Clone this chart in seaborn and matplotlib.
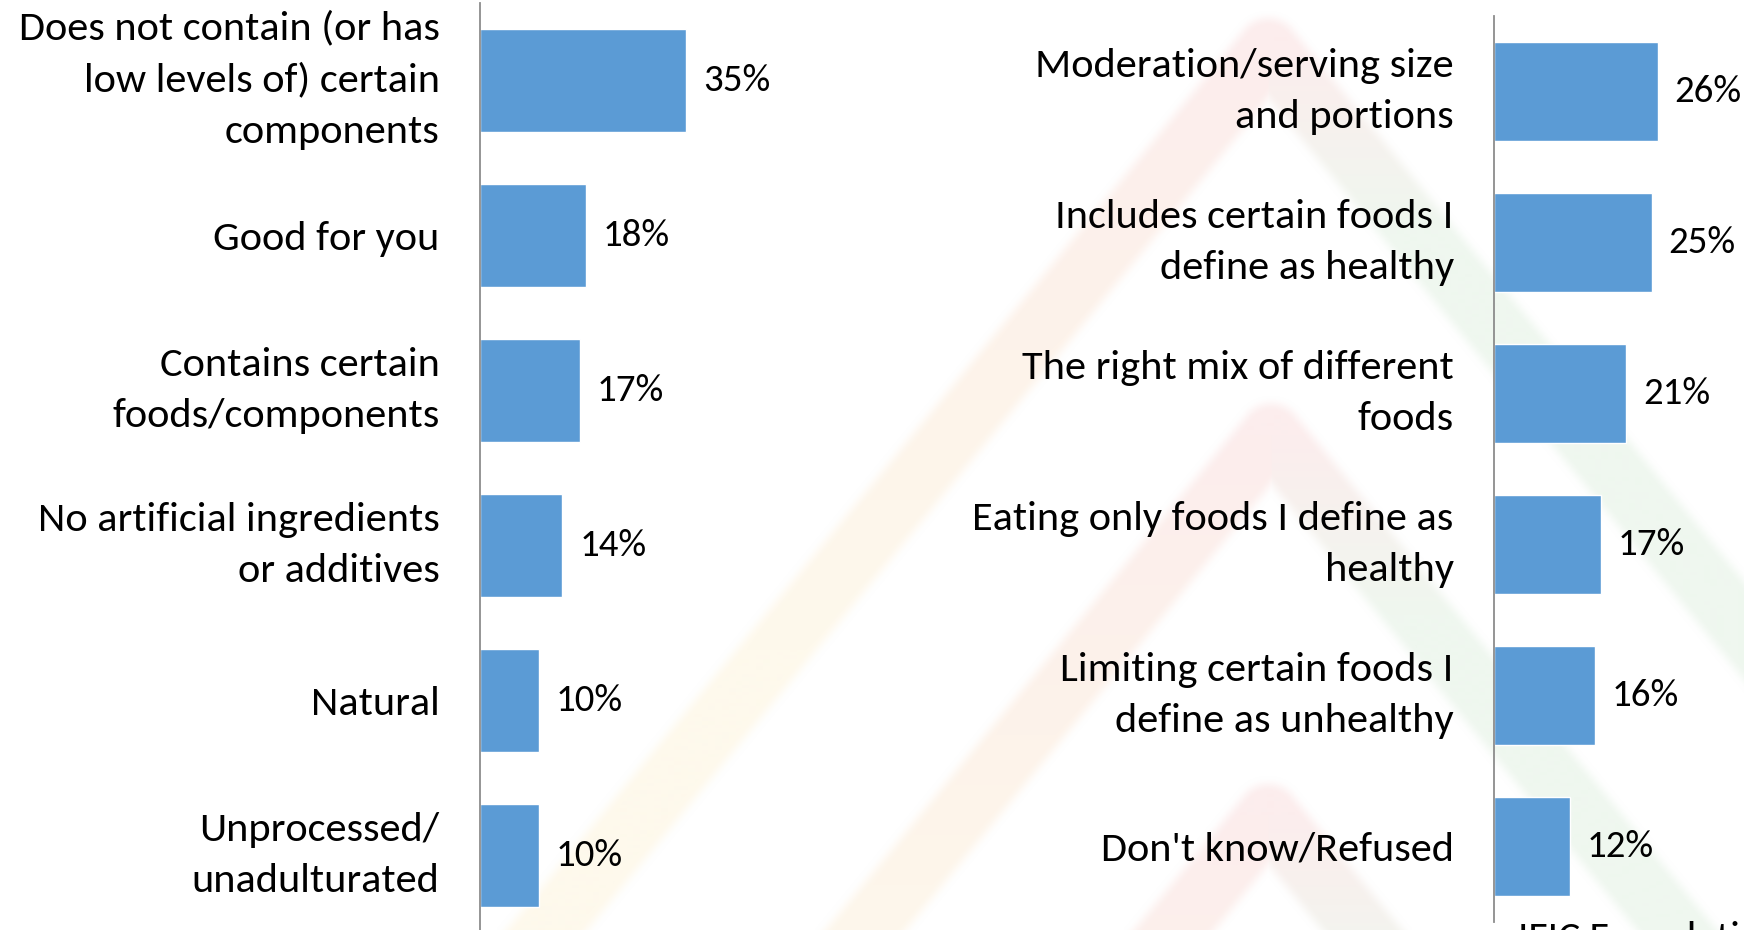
import matplotlib
matplotlib.use("Agg")
import matplotlib.pyplot as plt
import numpy as np
import seaborn as sns

# Survey results: what "healthy" means for a food vs. for an eating pattern
food_labels = [
    "Does not contain (or has\nlow levels of) certain\ncomponents",
    "Good for you",
    "Contains certain\nfoods/components",
    "No artificial ingredients\nor additives",
    "Natural",
    "Unprocessed/\nunadulturated",
]
food_values = [35, 18, 17, 14, 10, 10]

diet_labels = [
    "Moderation/serving size\nand portions",
    "Includes certain foods I\ndefine as healthy",
    "The right mix of different\nfoods",
    "Eating only foods I define as\nhealthy",
    "Limiting certain foods I\ndefine as unhealthy",
    "Don't know/Refused",
]
diet_values = [26, 25, 21, 17, 16, 12]

BAR_COLOR = "#5B9BD5"
AXIS_COLOR = "#8C8C8C"
FONT = ["Carlito", "Lato", "DejaVu Sans"]
LABEL_SIZE = 30.5
VALUE_SIZE = 28

sns.set_theme(style="white")
plt.rcParams["font.family"] = FONT

W, H = 1744, 930
fig = plt.figure(figsize=(W / 100, H / 100), dpi=100)
fig.patch.set_facecolor("white")


# ---- faint chevron watermark, rendered as a soft raster behind the chart ----
def seg_dist(px, py, x0, y0, x1, y1):
    dx, dy = x1 - x0, y1 - y0
    t = np.clip(((px - x0) * dx + (py - y0) * dy) / (dx * dx + dy * dy), 0, 1)
    return np.hypot(px - (x0 + t * dx), py - (y0 + t * dy))


def smooth(edge0, edge1, v):
    t = np.clip((v - edge0) / (edge1 - edge0), 0, 1)
    return t * t * (3 - 2 * t)


yy, xx = np.mgrid[0:H, 0:W].astype(float)
img = np.ones((H, W, 3))
pink = np.array([252, 237, 237]) / 255
peach = np.array([253, 243, 234]) / 255
cream = np.array([254, 249, 236]) / 255
mint = np.array([239, 247, 239]) / 255

slope = 1.22
half_w = 31
for ax0, ay0 in [(1267, 50), (1270, 435), (1267, 815)]:
    yb = H + 60
    xl = ax0 - (yb - ay0) / slope
    xr = ax0 + (yb - ay0) / slope
    dl = seg_dist(xx, yy, ax0, ay0, xl, yb)
    dr = seg_dist(xx, yy, ax0, ay0, xr, yb)
    # left arm colour: pink near the peak, warming to cream further down
    t = np.clip((yy - ay0) / 600, 0, 1)[..., None]
    left_col = np.where(t < 0.5, pink + (peach - pink) * (t * 2),
                        peach + (cream - peach) * ((t - 0.5) * 2))
    tr = np.clip((yy - ay0) / 180, 0, 1)[..., None]
    right_col = pink + (mint - pink) * tr
    col = np.where((dl <= dr)[..., None], left_col, right_col)
    mask = (1 - smooth(half_w - 8, half_w + 8, np.minimum(dl, dr)))[..., None]
    img = img * (1 - mask) + np.minimum(img, col) * mask

bg = fig.add_axes([0, 0, 1, 1], zorder=-10)
bg.imshow(img, extent=(0, W, H, 0), aspect="auto", interpolation="bilinear")
bg.set_xlim(0, W)
bg.set_ylim(H, 0)
bg.axis("off")

# ---- the two bar panels ----
ax_l = fig.add_axes([480 / W, -3 / H, 500 / W, 930 / H])
ax_r = fig.add_axes([1494 / W, 8 / H, 240 / W, 906 / H])


def draw_panel(ax, labels, values, xmax):
    sns.barplot(x=values, y=labels, ax=ax, color=BAR_COLOR, saturation=1,
                width=0.66, orient="h")
    ax.set_xlim(0, xmax)
    ax.set_ylim(len(labels) - 0.5, -0.5)
    ax.set_facecolor("none")
    for side in ("top", "right", "bottom"):
        ax.spines[side].set_visible(False)
    ax.spines["left"].set_color(AXIS_COLOR)
    ax.spines["left"].set_linewidth(1.3)
    ax.set_xticks([])
    ax.set_xlabel("")
    ax.set_ylabel("")
    ax.tick_params(axis="y", length=0, pad=29, labelsize=LABEL_SIZE,
                   labelcolor="black")
    for t in ax.get_yticklabels():
        t.set_multialignment("right")
        t.set_linespacing(1.55)
        if "\n" in t.get_text():
            t.set_verticalalignment("center")
    for c in ax.containers:
        ax.bar_label(c, labels=[f"{v}%" for v in values], padding=12,
                     fontsize=VALUE_SIZE, color="black")


draw_panel(ax_l, food_labels, food_values, 500 / 5.89)
draw_panel(ax_r, diet_labels, diet_values, 240 / 6.3)

# Footer credit, partly running off the bottom edge
fig.text(1518 / W, -20 / H, "IFIC Foundation", fontsize=30, color="black",
         ha="left", va="baseline")

fig.savefig("out.png", dpi=100, facecolor="white")
